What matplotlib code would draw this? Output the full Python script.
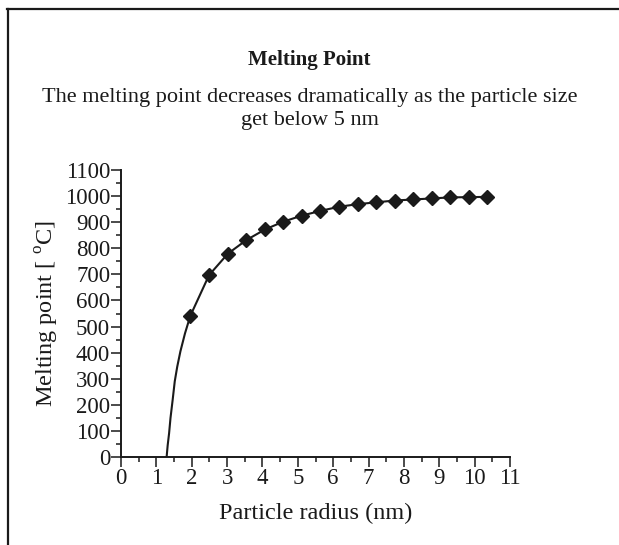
import matplotlib
matplotlib.use("Agg")
import matplotlib.pyplot as plt
from matplotlib.lines import Line2D
from matplotlib.ticker import MultipleLocator

plt.rcParams['font.family'] = ['Liberation Serif', 'DejaVu Serif']
plt.rcParams['mathtext.fontset'] = 'custom'
plt.rcParams['mathtext.rm'] = 'Liberation Serif'

# marker points
radius = [1.96, 2.49, 3.02, 3.54, 4.07, 4.59, 5.11, 5.63, 6.16, 6.69,
          7.21, 7.74, 8.26, 8.79, 9.31, 9.84, 10.36]
melting = [541, 697, 779, 831, 872, 902, 925, 943, 959, 969,
           976, 983, 987, 991, 995, 996, 997]

# steep part of the curve below the first marker (no markers there)
curve_r = [1.29, 1.32, 1.36, 1.40, 1.46, 1.52, 1.59, 1.68, 1.81, 1.96]
curve_t = [0, 45, 91, 150, 218, 290, 346, 405, 474, 541]

fig = plt.figure(figsize=(6.19, 5.45), dpi=100)
ax = fig.add_axes([121 / 619, 88 / 545, 389 / 619, 287 / 545])

ax.plot(curve_r, curve_t, color='#1a1a1a', lw=1.5, solid_capstyle='butt')
ax.plot(radius, melting, color='#1a1a1a', lw=1.5, marker='D', ms=7,
        markerfacecolor='#1a1a1a', markeredgecolor='#1a1a1a')

ax.set_xlim(0, 11)
ax.set_ylim(0, 1100)
ax.xaxis.set_major_locator(MultipleLocator(1))
ax.xaxis.set_minor_locator(MultipleLocator(0.5))
ax.yaxis.set_major_locator(MultipleLocator(100))
ax.yaxis.set_minor_locator(MultipleLocator(50))

for s in ['top', 'right']:
    ax.spines[s].set_visible(False)
for s in ['left', 'bottom']:
    ax.spines[s].set_linewidth(1.4)
    ax.spines[s].set_color('#1a1a1a')

ax.tick_params(which='major', direction='out', length=7.5, width=1.1,
               labelsize=16.5, pad=0.3, color='#1a1a1a', labelcolor='#1a1a1a')
ax.tick_params(which='minor', direction='out', length=3.8, width=1.1, color='#1a1a1a')

ax.set_xlabel('Particle radius (nm)', fontsize=17.5, labelpad=10, color='#1a1a1a')
ax.set_ylabel('Melting point [ $^{\\mathrm{o}}$C]', fontsize=17.5, labelpad=3, color='#1a1a1a')

fig.text(0.5, 1 - 60 / 545, 'Melting Point', ha='center', va='center',
         fontsize=15, fontweight='bold', color='#1a1a1a')
fig.text(0.5, 1 - 109 / 545,
         'The melting point decreases dramatically as the particle size\nget below 5 nm',
         ha='center', va='center', fontsize=16, color='#1a1a1a', linespacing=1.3)

# frame on the left and top edges
fig.add_artist(Line2D([8 / 619, 8 / 619], [0, 1 - 8.5 / 545], transform=fig.transFigure,
                      color='#1a1a1a', lw=1.6))
fig.add_artist(Line2D([7.2 / 619, 1], [1 - 8.5 / 545, 1 - 8.5 / 545], transform=fig.transFigure,
                      color='#1a1a1a', lw=1.6))

fig.savefig('out.png', dpi=100)
